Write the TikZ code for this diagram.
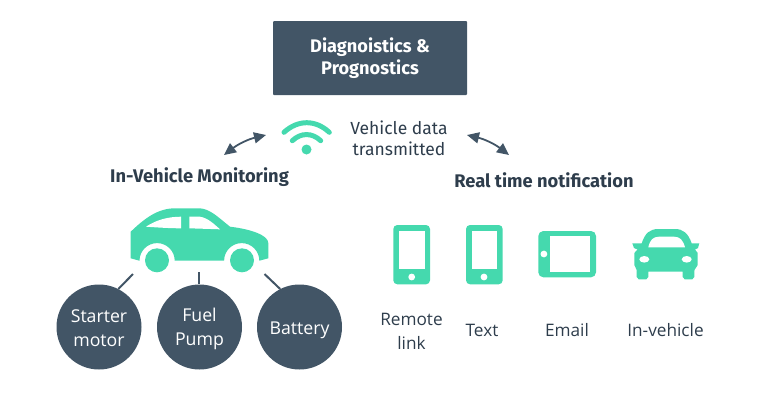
\documentclass[tikz,border=0pt]{standalone}
\usepackage{fontspec}
\setmainfont{Open Sans}
\newfontfamily\headfont{Fira Sans}
\usetikzlibrary{arrows.meta}
\definecolor{slatebox}{HTML}{425566}
\definecolor{tealicon}{HTML}{45D9AE}
\definecolor{darktext}{HTML}{2E3D4C}

\begin{document}
\begin{tikzpicture}[x=1pt, y=-1pt,
  partcircle/.style={circle, fill=slatebox, minimum size=85pt, inner sep=0pt, align=center, text=white, font=\fontsize{17.7}{24}\selectfont},
  iconlabel/.style={align=center, text=darktext, font=\fontsize{17.2}{24}\selectfont},
  headlabel/.style={text=darktext, font=\headfont\fontsize{18.3}{22}\selectfont\bfseries},
  linkarrow/.style={{Triangle[length=12pt, width=11pt]}-{Triangle[length=12pt, width=11pt]}, slatebox, line width=1.8pt},
  stemline/.style={slatebox, line width=2pt},
  wifiarc/.style={tealicon, line width=5pt, line cap=round}]
  \useasboundingbox (0, 0) rectangle (770, 400);

  % top box
  \node[fill=slatebox, rounded corners=1pt, minimum width=194pt, minimum height=74pt, inner sep=0pt, align=center, text=white,
    font=\headfont\fontsize{18.2}{21.5}\selectfont\bfseries] (diag) at (370, 58) {Diagnoistics \&\\Prognostics};

  % wifi
  \draw[wifiarc] (284, 132.3) .. controls (298, 119.5) and (315.5, 119.5) .. (329.3, 132.3);
  \draw[wifiarc] (292.3, 140.7) .. controls (301, 132.5) and (312, 132.5) .. (320.7, 140.7);
  \fill[tealicon] (306.5, 149.5) circle[radius=5];
  \node[iconlabel, font=\headfont\fontsize{17.5}{21}\selectfont] (vdata) at (399, 138.5) {Vehicle data\\transmitted};

  % arrows either side of the wifi
  \coordinate (la) at (224, 155);
  \coordinate (lb) at (266, 135);
  \coordinate (ra) at (467, 135);
  \coordinate (rb) at (509, 155);
  \draw[linkarrow] (la) to[bend left=12] (lb);
  \draw[linkarrow] (ra) to[bend left=12] (rb);

  \node[headlabel] (mon) at (199.5, 177.5) {In-Vehicle Monitoring};
  \node[headlabel] (real) at (544, 180.5) {Real time notification};

  % car, side view
  \fill[tealicon] (130.7, 258.3) -- (130.7, 231.7)
    .. controls (145, 218) and (158, 208.3) .. (175, 208.3)
    -- (200, 208.3) .. controls (210, 209) and (218, 217) .. (230, 226.7)
    .. controls (250, 229) and (268.3, 235) .. (268.3, 243) -- (268.3, 258.3)
    -- (259.3, 260.7) arc[start angle=0, end angle=-180, radius=17.6]
    -- (174.7, 260.7) arc[start angle=0, end angle=-180, radius=17.6]
    -- cycle;
  \fill[white] (146, 226.7) .. controls (156, 220) and (168, 216.7) .. (181, 216.7)
    -- (181, 228.3) .. controls (170, 228.3) and (158, 227.5) .. cycle;
  \fill[white] (189.3, 216.7) -- (200, 216.7) .. controls (208, 218) and (214, 224) .. (220, 229.3)
    -- (189.3, 228.3) -- cycle;
  \fill[tealicon] (157, 260.3) circle[radius=12];
  \fill[tealicon] (242, 260.3) circle[radius=12];

  % parts
  \node[partcircle] (starter) at (99, 327) {\rule{0pt}{15pt}Starter\\motor};
  \node[partcircle] (fuel) at (199.5, 327) {\rule{0pt}{17pt}Fuel\\Pump};
  \node[partcircle, text height=15pt, text depth=0pt] (battery) at (299.5, 327) {Battery};
  \coordinate (sa) at (133, 274);
  \coordinate (fa) at (199, 272);
  \coordinate (ba) at (264.5, 274);
  \draw[stemline] (sa) -- (starter.63);
  \draw[stemline] (fa) -- (fa |- fuel.north);
  \draw[stemline] (ba) -- (battery.117);

  % phones
  \foreach \px/\bx in {393.3/411.7, 466/484} {
    \fill[tealicon, rounded corners=4pt] (\px, 225) rectangle ++(36.7, 59.3);
    \fill[white] (\px+5.6, 230.7) rectangle ++(25.6, 38.3);
    \fill[white] (\bx, 277) circle[radius=3.4];
  }

  % tablet
  \fill[tealicon, rounded corners=5pt] (538.3, 231) rectangle (596, 277.3);
  \fill[white] (550, 236) rectangle (589.7, 272.3);
  \fill[white] (543.9, 254) circle[radius=3.4];

  % car, front view
  \fill[tealicon] (632.3, 243.3) -- (641.7, 243.3)
    .. controls (645, 233) and (650, 229) .. (658.3, 229)
    -- (675, 229) .. controls (683, 229) and (688, 233) .. (691.7, 243.3)
    -- (699.3, 243.3) -- (698, 248) -- (695, 249.5) -- (697.7, 253) -- (697.7, 265)
    -- (694.5, 270) -- (694.3, 277) -- (692.3, 279.3) -- (684.7, 279.3) -- (682.7, 277) -- (682.7, 271.7)
    -- (648.3, 271.7) -- (648.3, 277) -- (646.3, 279.3) -- (638.7, 279.3) -- (636.7, 277) -- (636.7, 270)
    -- (634.3, 265) -- (634.3, 253) -- (637.5, 249.5) -- (634, 248) -- cycle;
  \fill[white] (648.3, 247.3) .. controls (650, 240) and (653, 236.7) .. (659, 236.7)
    -- (674, 236.7) .. controls (680, 236.7) and (683, 240) .. (685, 247.3) -- cycle;
  \fill[white] (644.3, 259.3) ellipse[x radius=5, y radius=3.3];
  \fill[white] (686.7, 259.3) ellipse[x radius=5, y radius=3.3];

  % labels under the icons
  \node[iconlabel] (remote) at (411.5, 331) {Remote\\link};
  \node[iconlabel] (text) at (482, 330.5) {Text};
  \node[iconlabel] (email) at (567, 330.5) {Email};
  \node[iconlabel] (invehicle) at (665.5, 330.5) {In-vehicle};
\end{tikzpicture}
\end{document}
